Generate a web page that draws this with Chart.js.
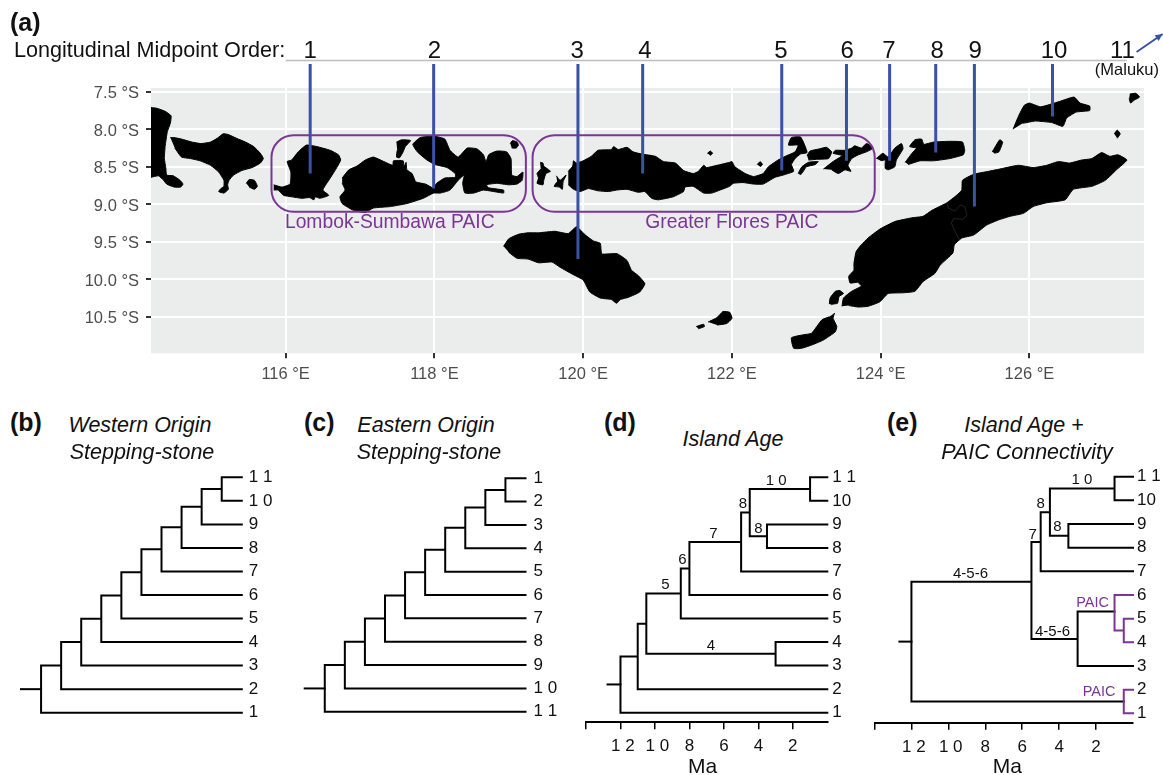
<!DOCTYPE html>
<html>
<head>
<meta charset="utf-8">
<script src="https://cdn.jsdelivr.net/npm/chart.js"></script>
<style>
  html, body { margin: 0; padding: 0; background: #fff; }
  #page { position: relative; width: 1163px; height: 775px; overflow: hidden; font-family: "Liberation Sans", sans-serif; color: #111; }
  canvas { position: absolute; }
  .letter { position: absolute; font-size: 25px; font-weight: bold; line-height: 28px; transform: translateY(-50%); }
  .title { position: absolute; font-size: 21.5px; font-style: italic; line-height: 26px; white-space: nowrap; transform: translate(-50%, -50%); }
  #orderTitle { position: absolute; left: 14px; top: 50px; font-size: 21.6px; line-height: 26px; white-space: nowrap; transform: translateY(-50%); }
</style>
</head>
<body>
<div id="page">
  <canvas id="map" width="1163" height="395" style="left:0;top:0"></canvas>
  <canvas id="treeB" width="290" height="270" style="left:0;top:460px"></canvas>
  <canvas id="treeC" width="270" height="270" style="left:290px;top:460px"></canvas>
  <canvas id="treeD" width="300" height="315" style="left:570px;top:460px"></canvas>
  <canvas id="treeE" width="303" height="315" style="left:860px;top:460px"></canvas>

  <div class="letter" style="left:10px;top:22px">(a)</div>
  <div id="orderTitle">Longitudinal Midpoint Order:</div>
  <div class="letter" style="left:10px;top:422px">(b)</div>
  <div class="title" style="left:140px;top:425px">Western Origin</div>
  <div class="title" style="left:142px;top:452px">Stepping-stone</div>
  <div class="letter" style="left:304px;top:422px">(c)</div>
  <div class="title" style="left:426px;top:425px">Eastern Origin</div>
  <div class="title" style="left:429px;top:452px">Stepping-stone</div>
  <div class="letter" style="left:604px;top:422px">(d)</div>
  <div class="title" style="left:733px;top:439px">Island Age</div>
  <div class="letter" style="left:887px;top:422px">(e)</div>
  <div class="title" style="left:1024px;top:425px">Island Age +</div>
  <div class="title" style="left:1027px;top:452px">PAIC Connectivity</div>
</div>

<script>
// Map ticks
const lonTicks = [116, 118, 120, 122, 124, 126];
const latTicks = [7.5, 8, 8.5, 9, 9.5, 10, 10.5];

// Coastlines, [lon, lat south]
const java = [[114.19,7.71],[114.27,7.72],[114.38,7.76],[114.46,7.82],[114.45,7.92],[114.41,8.03],[114.38,8.23],[114.37,8.39],[114.39,8.52],[114.40,8.61],[114.49,8.62],[114.58,8.68],[114.62,8.73],[114.59,8.77],[114.50,8.77],[114.40,8.73],[114.36,8.68],[114.29,8.62],[114.19,8.64]];
const bali = [[114.45,8.11],[114.50,8.11],[114.60,8.13],[114.74,8.17],[114.86,8.19],[114.99,8.17],[115.08,8.12],[115.16,8.06],[115.23,8.07],[115.34,8.12],[115.46,8.17],[115.57,8.23],[115.66,8.32],[115.70,8.39],[115.66,8.45],[115.55,8.51],[115.41,8.55],[115.30,8.61],[115.24,8.68],[115.22,8.74],[115.23,8.80],[115.17,8.85],[115.10,8.83],[115.13,8.79],[115.17,8.76],[115.17,8.68],[115.10,8.57],[114.99,8.48],[114.85,8.42],[114.72,8.39],[114.60,8.37],[114.51,8.25]];
const penida = [[115.47,8.72],[115.51,8.67],[115.58,8.68],[115.62,8.76],[115.58,8.80],[115.51,8.77]];
const lombok = [[115.84,8.74],[115.95,8.77],[116.06,8.73],[116.07,8.57],[116.02,8.43],[116.08,8.41],[116.17,8.30],[116.28,8.21],[116.42,8.23],[116.60,8.28],[116.71,8.34],[116.74,8.41],[116.67,8.54],[116.58,8.68],[116.50,8.81],[116.58,8.88],[116.46,8.92],[116.40,8.90],[116.38,8.94],[116.32,8.91],[116.22,8.92],[116.08,8.90],[115.97,8.88],[115.90,8.81],[115.84,8.81]];
const sumbawa = [[116.76,8.65],[116.85,8.54],[116.96,8.49],[117.07,8.41],[117.18,8.37],[117.32,8.43],[117.44,8.48],[117.45,8.42],[117.58,8.42],[117.59,8.50],[117.62,8.44],[117.63,8.54],[117.70,8.59],[117.75,8.70],[117.88,8.73],[117.98,8.78],[118.03,8.72],[118.14,8.65],[118.28,8.64],[118.28,8.59],[118.17,8.51],[118.01,8.47],[117.90,8.41],[117.77,8.30],[117.71,8.20],[117.81,8.11],[117.99,8.09],[118.14,8.13],[118.21,8.28],[118.32,8.37],[118.44,8.25],[118.57,8.26],[118.66,8.34],[118.70,8.48],[118.67,8.54],[118.73,8.34],[118.84,8.29],[118.97,8.30],[119.03,8.39],[119.04,8.61],[119.11,8.63],[119.19,8.57],[119.18,8.68],[119.11,8.73],[119.00,8.74],[118.84,8.72],[118.70,8.74],[118.73,8.78],[118.93,8.81],[118.93,8.85],[118.66,8.81],[118.53,8.85],[118.41,8.85],[118.38,8.72],[118.40,8.61],[118.32,8.68],[118.21,8.81],[118.08,8.85],[117.99,8.85],[117.85,8.92],[117.63,8.99],[117.41,9.03],[117.18,9.05],[117.07,9.11],[116.91,9.08],[116.76,8.99],[116.73,8.90],[116.80,8.81],[116.76,8.72]];
const moyo = [[117.49,8.17],[117.56,8.14],[117.68,8.15],[117.61,8.23],[117.57,8.32],[117.53,8.38],[117.49,8.37],[117.50,8.28]];
const sangeang = [[119.02,8.19],[119.05,8.15],[119.11,8.17],[119.13,8.21],[119.10,8.25],[119.04,8.25]];
const komodo = [[119.42,8.44],[119.46,8.45],[119.47,8.49],[119.56,8.56],[119.50,8.59],[119.47,8.68],[119.46,8.74],[119.38,8.72],[119.40,8.65],[119.38,8.59],[119.43,8.53]];
const rinca = [[119.64,8.62],[119.69,8.68],[119.77,8.61],[119.73,8.70],[119.72,8.80],[119.68,8.77],[119.61,8.76],[119.65,8.70]];
const flores = [[119.80,8.56],[119.86,8.49],[119.87,8.42],[119.91,8.45],[120.00,8.42],[120.11,8.36],[120.20,8.28],[120.38,8.27],[120.41,8.23],[120.47,8.27],[120.59,8.24],[120.67,8.30],[120.79,8.33],[120.97,8.36],[121.08,8.43],[121.24,8.45],[121.35,8.55],[121.48,8.59],[121.55,8.56],[121.62,8.48],[121.66,8.51],[121.80,8.48],[121.97,8.44],[122.00,8.43],[122.04,8.50],[122.18,8.59],[122.29,8.63],[122.42,8.59],[122.49,8.50],[122.62,8.41],[122.74,8.35],[122.85,8.30],[122.89,8.21],[122.76,8.21],[122.80,8.11],[122.92,8.10],[122.97,8.19],[123.01,8.31],[122.92,8.33],[122.85,8.39],[122.80,8.47],[122.83,8.56],[122.69,8.61],[122.58,8.64],[122.42,8.73],[122.29,8.73],[122.15,8.71],[122.02,8.72],[121.97,8.76],[121.84,8.81],[121.73,8.85],[121.62,8.85],[121.48,8.76],[121.37,8.77],[121.35,8.83],[121.21,8.90],[121.01,8.94],[120.92,8.92],[120.83,8.83],[120.74,8.84],[120.59,8.80],[120.45,8.81],[120.34,8.83],[120.20,8.82],[120.07,8.79],[119.96,8.83],[119.87,8.80],[119.80,8.74]];
const palue = [[121.67,8.32],[121.71,8.29],[121.74,8.32],[121.71,8.35]];
const besar = [[122.34,8.47],[122.38,8.43],[122.41,8.47],[122.38,8.50]];
const solor = [[122.89,8.59],[122.94,8.50],[123.03,8.44],[123.16,8.43],[123.12,8.47],[123.00,8.50],[122.96,8.56],[122.92,8.61]];
const adonara = [[123.01,8.35],[123.05,8.29],[123.18,8.26],[123.27,8.24],[123.34,8.30],[123.30,8.39],[123.14,8.40],[123.03,8.41]];
const lembata = [[123.23,8.53],[123.36,8.43],[123.48,8.35],[123.36,8.32],[123.39,8.28],[123.52,8.28],[123.61,8.25],[123.65,8.22],[123.74,8.25],[123.81,8.19],[123.90,8.25],[123.81,8.30],[123.70,8.34],[123.61,8.39],[123.56,8.48],[123.60,8.56],[123.52,8.54],[123.43,8.59],[123.34,8.54]];
const pantar = [[123.94,8.39],[124.03,8.32],[124.10,8.37],[124.19,8.25],[124.28,8.19],[124.30,8.26],[124.21,8.41],[124.19,8.50],[124.10,8.54],[124.06,8.52],[124.06,8.41],[124.00,8.42]];
const alor = [[124.33,8.44],[124.42,8.32],[124.48,8.25],[124.39,8.23],[124.46,8.14],[124.55,8.13],[124.58,8.20],[124.71,8.17],[124.93,8.16],[125.10,8.17],[125.13,8.28],[125.11,8.34],[124.93,8.39],[124.71,8.42],[124.53,8.42],[124.37,8.47]];
const wetar = [[125.78,8.00],[125.85,7.83],[125.93,7.68],[126.00,7.65],[126.15,7.70],[126.40,7.63],[126.60,7.57],[126.68,7.65],[126.81,7.69],[126.81,7.75],[126.63,7.77],[126.50,7.85],[126.45,7.96],[126.30,7.91],[126.08,7.89],[125.91,7.92]];
const romang = [[127.35,7.53],[127.43,7.52],[127.48,7.57],[127.41,7.61],[127.36,7.65],[127.34,7.59]];
const kisar = [[127.14,8.06],[127.18,8.01],[127.22,8.06],[127.18,8.12]];
const atauro = [[125.50,8.30],[125.60,8.14],[125.64,8.17],[125.59,8.30],[125.53,8.32]];
const timor = [[123.48,10.36],[123.50,10.25],[123.61,10.16],[123.74,10.09],[123.69,10.04],[123.59,10.05],[123.57,9.96],[123.64,9.88],[123.64,9.79],[123.67,9.63],[123.74,9.54],[123.83,9.45],[123.99,9.33],[124.19,9.23],[124.42,9.18],[124.57,9.16],[124.69,9.08],[124.89,8.98],[125.02,8.88],[125.09,8.81],[125.10,8.68],[125.25,8.60],[125.45,8.56],[125.60,8.53],[125.85,8.48],[126.05,8.51],[126.23,8.48],[126.39,8.43],[126.54,8.45],[126.70,8.41],[126.84,8.39],[126.97,8.31],[127.08,8.36],[127.19,8.34],[127.31,8.41],[127.17,8.54],[127.02,8.68],[126.84,8.76],[126.59,8.80],[126.48,8.94],[126.23,8.98],[126.05,9.03],[125.92,9.12],[125.74,9.16],[125.58,9.21],[125.42,9.28],[125.25,9.41],[125.09,9.45],[124.99,9.54],[124.97,9.65],[124.80,9.81],[124.73,9.92],[124.57,10.03],[124.46,10.16],[124.30,10.18],[124.10,10.19],[123.99,10.30],[123.83,10.36],[123.70,10.37],[123.57,10.35]];
const semau = [[123.31,10.33],[123.32,10.25],[123.39,10.16],[123.45,10.15],[123.50,10.19],[123.44,10.23],[123.42,10.32],[123.36,10.33],[123.34,10.34]];
const rote = [[123.38,10.45],[123.36,10.52],[123.41,10.63],[123.39,10.70],[123.23,10.81],[123.09,10.87],[122.94,10.92],[122.83,10.92],[122.80,10.78],[122.96,10.74],[123.07,10.72],[123.21,10.54],[123.31,10.50]];
const sumba = [[118.93,9.56],[119.00,9.46],[119.13,9.40],[119.26,9.38],[119.40,9.38],[119.62,9.36],[119.80,9.39],[119.91,9.30],[120.03,9.41],[120.14,9.49],[120.23,9.52],[120.25,9.66],[120.36,9.66],[120.46,9.66],[120.59,9.75],[120.65,9.88],[120.74,9.95],[120.83,10.06],[120.76,10.17],[120.61,10.24],[120.50,10.27],[120.45,10.32],[120.38,10.27],[120.23,10.25],[120.09,10.17],[120.00,10.01],[119.87,9.94],[119.69,9.84],[119.58,9.77],[119.40,9.78],[119.26,9.73],[119.11,9.72],[119.00,9.64]];
const savu = [[121.68,10.57],[121.80,10.51],[121.88,10.43],[121.97,10.44],[122.00,10.52],[121.93,10.59],[121.80,10.61]];
const raijua = [[121.52,10.63],[121.62,10.60],[121.63,10.63],[121.55,10.66]];
const islands = [java, bali, penida, lombok, sumbawa, moyo, sangeang, komodo, rinca, flores, palue, besar, solor, adonara, lembata, pantar, alor, wetar, romang, kisar, atauro, timor, semau, rote, sumba, savu, raijua];
const timorBorder = [[124.89,8.99],[124.91,9.05],[125.00,9.09],[125.07,9.01],[125.13,9.03],[125.16,9.14],[125.11,9.20],[124.98,9.19],[124.95,9.25],[125.00,9.36],[125.06,9.48]];

// Midpoint markers on the map
const orderLabels = ['1','2','3','4','5','6','7','8','9','10','11'];
const orderLabelLon = [116.33,118.00,119.92,120.83,122.66,123.55,124.11,124.76,125.27,126.33,127.25];
const midpointLon = [116.33,117.99,119.93,120.80,122.67,123.54,124.12,124.74,125.26,126.31];
const midpointLat = [8.59,8.79,9.73,8.59,8.55,8.42,8.42,8.31,9.03,7.83];
const paicBoxes = [[115.81,119.23,8.08,9.10],[119.32,123.92,8.08,9.10]];
const malukuArrow = [[127.44,6.97],[127.79,6.73]];

// Stepping-stone trees (b, c), nodes are tips 1-11 then internal nodes
const ladderX = [10,10,10,10,10,10,10,10,10,10,10, 0,1,2,3,4,5,6,7,8,9];
const ladderY = [1,2,3,4,5,6,7,8,9,10,11, 2,3,4,4.99,5.98,6.97,7.94,8.88,9.75,10.5];
const ladderParent = [11,12,13,14,15,16,17,18,19,20,20, -1,11,12,13,14,15,16,17,18,19];
const westTips = ['1','2','3','4','5','6','7','8','9','1 0','1 1'];
const eastTips = ['1 1','1 0','9','8','7','6','5','4','3','2','1'];

// Island age tree (d), x in Ma
const ageX = [0,0,0,0,0,0,0,0,0,0,0, 12,11,10.5,8.5,8,5,4.5,1,3.5,3];
const ageY = [1,2,3,4,5,6,7,8,9,10,11, 2.2,3.39,4.78,6.06,7.13,8.25,9.5,10.5,8.5,3.5];
const ageParent = [11,12,20,20,14,15,16,19,19,18,18, -1,11,12,13,14,15,16,17,17,13];
const ageTips = ['1','2','3','4','5','6','7','8','9','10','1 1'];

// Island age + PAIC tree (e)
const paicX = [0,0,0,0,0,0,0,0,0,0,0, 12,5.5,5,4.5,1,3.5,3,1,0.5,0.5];
const paicY = [1,2,3,4,5,6,7,8,9,10,11, 4.03,6.56,8.24,9.5,10.5,8.5,4.14,5.3,4.5,1.5];
const paicParent = [20,20,17,19,19,18,13,16,16,15,15, -1,11,12,13,14,14,12,17,18,11];
const paicPurple = [0,1,3,4,5,19];

const maTicks = [14,12,10,8,6,4,2];
const maLabels = ['','\u00a01 2','\u00a01 0','8','6','4','2'];

const PURPLE = '#7b3596';
const BLUE = '#3a52a3';

// small text labels placed at data positions
const textMarks = {
  id: 'textMarks',
  afterDraw(chart, args, opts) {
    const ctx = chart.ctx;
    ctx.save();
    ctx.textAlign = 'center';
    ctx.textBaseline = 'middle';
    (opts.items || []).forEach(t => {
      ctx.font = t.font;
      ctx.fillStyle = t.color || '#111';
      ctx.fillText(t.text, chart.scales.x.getPixelForValue(t.x), chart.scales.y.getPixelForValue(t.y));
    });
    ctx.restore();
  }
};

const mapPanel = {
  id: 'mapPanel',
  beforeDraw(chart) {
    const a = chart.chartArea;
    chart.ctx.fillStyle = '#ebecec';
    chart.ctx.fillRect(a.left, a.top, a.right - a.left, a.bottom - a.top);
  },
  afterDatasetsDraw(chart) {
    const { ctx, scales: { x, y } } = chart;
    ctx.save();
    ctx.strokeStyle = PURPLE;
    ctx.lineWidth = 2;
    paicBoxes.forEach(b => {
      const left = x.getPixelForValue(b[0]), right = x.getPixelForValue(b[1]);
      const top = y.getPixelForValue(b[2]), bottom = y.getPixelForValue(b[3]);
      ctx.beginPath();
      ctx.roundRect(left, top, right - left, bottom - top, 22);
      ctx.stroke();
    });
    // arrow head, points outside the chart area are not drawn by the library
    const tipX = x.getPixelForValue(malukuArrow[1][0]), tipY = y.getPixelForValue(malukuArrow[1][1]);
    const ang = Math.atan2(tipY - y.getPixelForValue(malukuArrow[0][1]), tipX - x.getPixelForValue(malukuArrow[0][0]));
    ctx.fillStyle = BLUE;
    ctx.beginPath();
    ctx.moveTo(tipX, tipY);
    ctx.lineTo(tipX - 8 * Math.cos(ang - 0.45), tipY - 8 * Math.sin(ang - 0.45));
    ctx.lineTo(tipX - 8 * Math.cos(ang + 0.45), tipY - 8 * Math.sin(ang + 0.45));
    ctx.closePath();
    ctx.fill();
    ctx.restore();
  }
};

const toPoints = list => list.map(p => ({ x: p[0], y: p[1] }));
const coast = list => ({
  data: toPoints(list), showLine: true, fill: 'shape', backgroundColor: '#000',
  borderColor: '#000', borderWidth: 1, pointRadius: 0, tension: 0.15
});
const plainLine = (data, color, width) => ({
  data, showLine: true, borderColor: color, borderWidth: width, pointRadius: 0, clip: false
});

const markerLines = midpointLon.map((lon, i) => plainLine([{ x: lon, y: 7.13 }, { x: lon, y: midpointLat[i] }], BLUE, 3));

new Chart(document.getElementById('map'), {
  type: 'scatter',
  data: {
    datasets: [
      ...markerLines,
      plainLine([{ x: 116, y: 7.083 }, { x: 127.31, y: 7.083 }], '#bdbdbd', 1.5),
      plainLine(toPoints(malukuArrow), BLUE, 1.8),
      plainLine(toPoints(timorBorder), '#444', 0.5),
      ...islands.map(coast)
    ]
  },
  options: {
    responsive: false,
    animation: false,
    layout: { padding: { left: 0, right: 19, top: 88, bottom: 11.7 } },
    plugins: {
      legend: { display: false },
      tooltip: { enabled: false },
      textMarks: {
        items: [
          ...orderLabels.map((t, i) => ({ text: t, x: orderLabelLon[i], y: 6.955, font: '24px "Liberation Sans"', color: '#111' })),
          { text: '(Maluku)', x: 127.31, y: 7.22, font: '16.5px "Liberation Sans"', color: '#111' },
          { text: 'Lombok-Sumbawa PAIC', x: 117.40, y: 9.25, font: '19.3px "Liberation Sans"', color: PURPLE },
          { text: 'Greater Flores PAIC', x: 122.0, y: 9.25, font: '19.3px "Liberation Sans"', color: PURPLE }
        ]
      }
    },
    scales: {
      x: {
        type: 'linear', min: 114.19, max: 127.54,
        afterBuildTicks(s) { s.ticks = lonTicks.map(v => ({ value: v })); },
        afterFit(s) { s.height = 30; },
        grid: { color: '#fff', lineWidth: 2, tickColor: '#333', tickLength: 5, tickWidth: 2 },
        border: { display: false },
        ticks: { autoSkip: false, maxRotation: 0, padding: 6, color: '#4d4d4d', font: { family: 'Liberation Sans', size: 16.5 }, callback: v => v + ' °E' }
      },
      y: {
        type: 'linear', reverse: true, min: 7.449, max: 10.987,
        afterBuildTicks(s) { s.ticks = latTicks.map(v => ({ value: v })); },
        afterFit(s) { s.width = 151; },
        grid: { color: '#fff', lineWidth: 2, tickColor: '#333', tickLength: 5, tickWidth: 2 },
        border: { display: false },
        ticks: { autoSkip: false, padding: 7, labelOffset: 2, color: '#4d4d4d', font: { family: 'Liberation Sans', size: 16.5 }, callback: v => v.toFixed(1) + ' °S' }
      }
    }
  },
  plugins: [mapPanel, textMarks]
});

// tree edges: child -> elbow at parent's x -> parent
function treePath(nx, ny, parent, keep) {
  const pts = [];
  parent.forEach((p, i) => {
    if (p < 0 || !keep(i)) return;
    pts.push({ x: nx[i], y: ny[i] }, { x: nx[p], y: ny[i] }, { x: nx[p], y: ny[p] }, { x: null, y: null });
  });
  return pts;
}

function drawTree(id, cfg) {
  const purple = cfg.purple || [];
  const root = cfg.parent.indexOf(-1);
  const line = (data, color) => ({ data, showLine: true, borderColor: color, borderWidth: 2, pointRadius: 0, clip: false, borderCapStyle: 'square', spanGaps: false });
  new Chart(document.getElementById(id), {
    type: 'scatter',
    data: {
      datasets: [
        line(treePath(cfg.x, cfg.y, cfg.parent, i => purple.includes(i)), PURPLE),
        line(treePath(cfg.x, cfg.y, cfg.parent, i => !purple.includes(i)), '#000'),
        line([{ x: cfg.stem, y: cfg.y[root] }, { x: cfg.x[root], y: cfg.y[root] }], '#000')
      ]
    },
    options: {
      responsive: false,
      animation: false,
      layout: { padding: cfg.padding },
      plugins: {
        legend: { display: false },
        tooltip: { enabled: false },
        textMarks: { items: cfg.notes || [] }
      },
      scales: {
        x: cfg.timeAxis ? {
          type: 'linear', min: 0, max: 14, reverse: true,
          afterBuildTicks(s) { s.ticks = maTicks.map(v => ({ value: v })); },
          afterFit(s) { s.height = cfg.axisHeight; },
          grid: { drawOnChartArea: false, color: '#000', tickColor: '#000', tickLength: 7, lineWidth: 1.5 },
          border: { color: '#000', width: 2 },
          ticks: { autoSkip: false, maxRotation: 0, padding: 7, color: '#111', font: { family: 'Liberation Sans', size: 17 }, callback: (v, i) => maLabels[i] }
        } : { type: 'linear', display: false, min: cfg.xMin, max: cfg.xMax },
        y: {
          type: 'linear', position: 'right', min: cfg.yMin, max: 11,
          afterBuildTicks(s) { s.ticks = cfg.y.slice(0, 11).map(v => ({ value: v })); },
          afterFit(s) { s.width = cfg.axisWidth; },
          grid: { display: false, drawTicks: false },
          border: { display: false },
          ticks: { autoSkip: false, padding: cfg.tipGap, color: '#111', font: { family: 'Liberation Sans', size: 17 }, callback: (v, i) => cfg.tips[i] }
        }
      }
    },
    plugins: [textMarks]
  });
}

const noteFont = '15px "Liberation Sans"';
const paicFont = '14.5px "Liberation Sans"';
const axisTitleFont = '21px "Liberation Sans"';

drawTree('treeB', {
  x: ladderX, y: ladderY, parent: ladderParent, tips: westTips, stem: -1, xMin: -1, xMax: 10, yMin: 1,
  padding: { left: 21, right: 0, top: 17.3, bottom: 17.3 }, axisWidth: 48.2, tipGap: 7
});
drawTree('treeC', {
  x: ladderX, y: ladderY, parent: ladderParent, tips: eastTips, stem: -1, xMin: -1, xMax: 10, yMin: 1,
  padding: { left: 14.7, right: 0, top: 16, bottom: 15.7 }, axisWidth: 34.5, tipGap: 8
});
drawTree('treeD', {
  x: ageX, y: ageY, parent: ageParent, tips: ageTips, stem: 12.75, yMin: 0.592, timeAxis: true, axisHeight: 52.7,
  padding: { left: 16, right: 0, top: 17.3, bottom: 0 }, axisWidth: 42.7, tipGap: 5,
  notes: [
    { text: '1 0', x: 2.96, y: 10.86, font: noteFont }, { text: '8', x: 4.9, y: 9.87, font: noteFont },
    { text: '8', x: 4.0, y: 8.8, font: noteFont }, { text: '7', x: 6.6, y: 8.58, font: noteFont },
    { text: '6', x: 8.4, y: 7.49, font: noteFont }, { text: '5', x: 9.39, y: 6.42, font: noteFont },
    { text: '4', x: 6.75, y: 3.85, font: noteFont },
    { text: 'Ma', x: 7.24, y: -1.31, font: axisTitleFont }
  ]
});
drawTree('treeE', {
  x: paicX, y: paicY, parent: paicParent, tips: ageTips, stem: 12.65, yMin: 0.603, purple: paicPurple, timeAxis: true, axisHeight: 52.3,
  padding: { left: 14.5, right: 0, top: 16.7, bottom: 0 }, axisWidth: 30, tipGap: 4,
  notes: [
    { text: '1 0', x: 2.77, y: 10.86, font: noteFont }, { text: '8', x: 5, y: 9.87, font: noteFont },
    { text: '8', x: 4.1, y: 8.87, font: noteFont }, { text: '7', x: 5.43, y: 8.55, font: noteFont },
    { text: '4-5-6', x: 8.8, y: 6.9, font: noteFont }, { text: '4-5-6', x: 4.36, y: 4.45, font: noteFont },
    { text: 'PAIC', x: 2.19, y: 5.67, font: paicFont, color: PURPLE }, { text: 'PAIC', x: 1.84, y: 1.9, font: paicFont, color: PURPLE },
    { text: 'Ma', x: 6.8, y: -1.27, font: axisTitleFont }
  ]
});
</script>
</body>
</html>
